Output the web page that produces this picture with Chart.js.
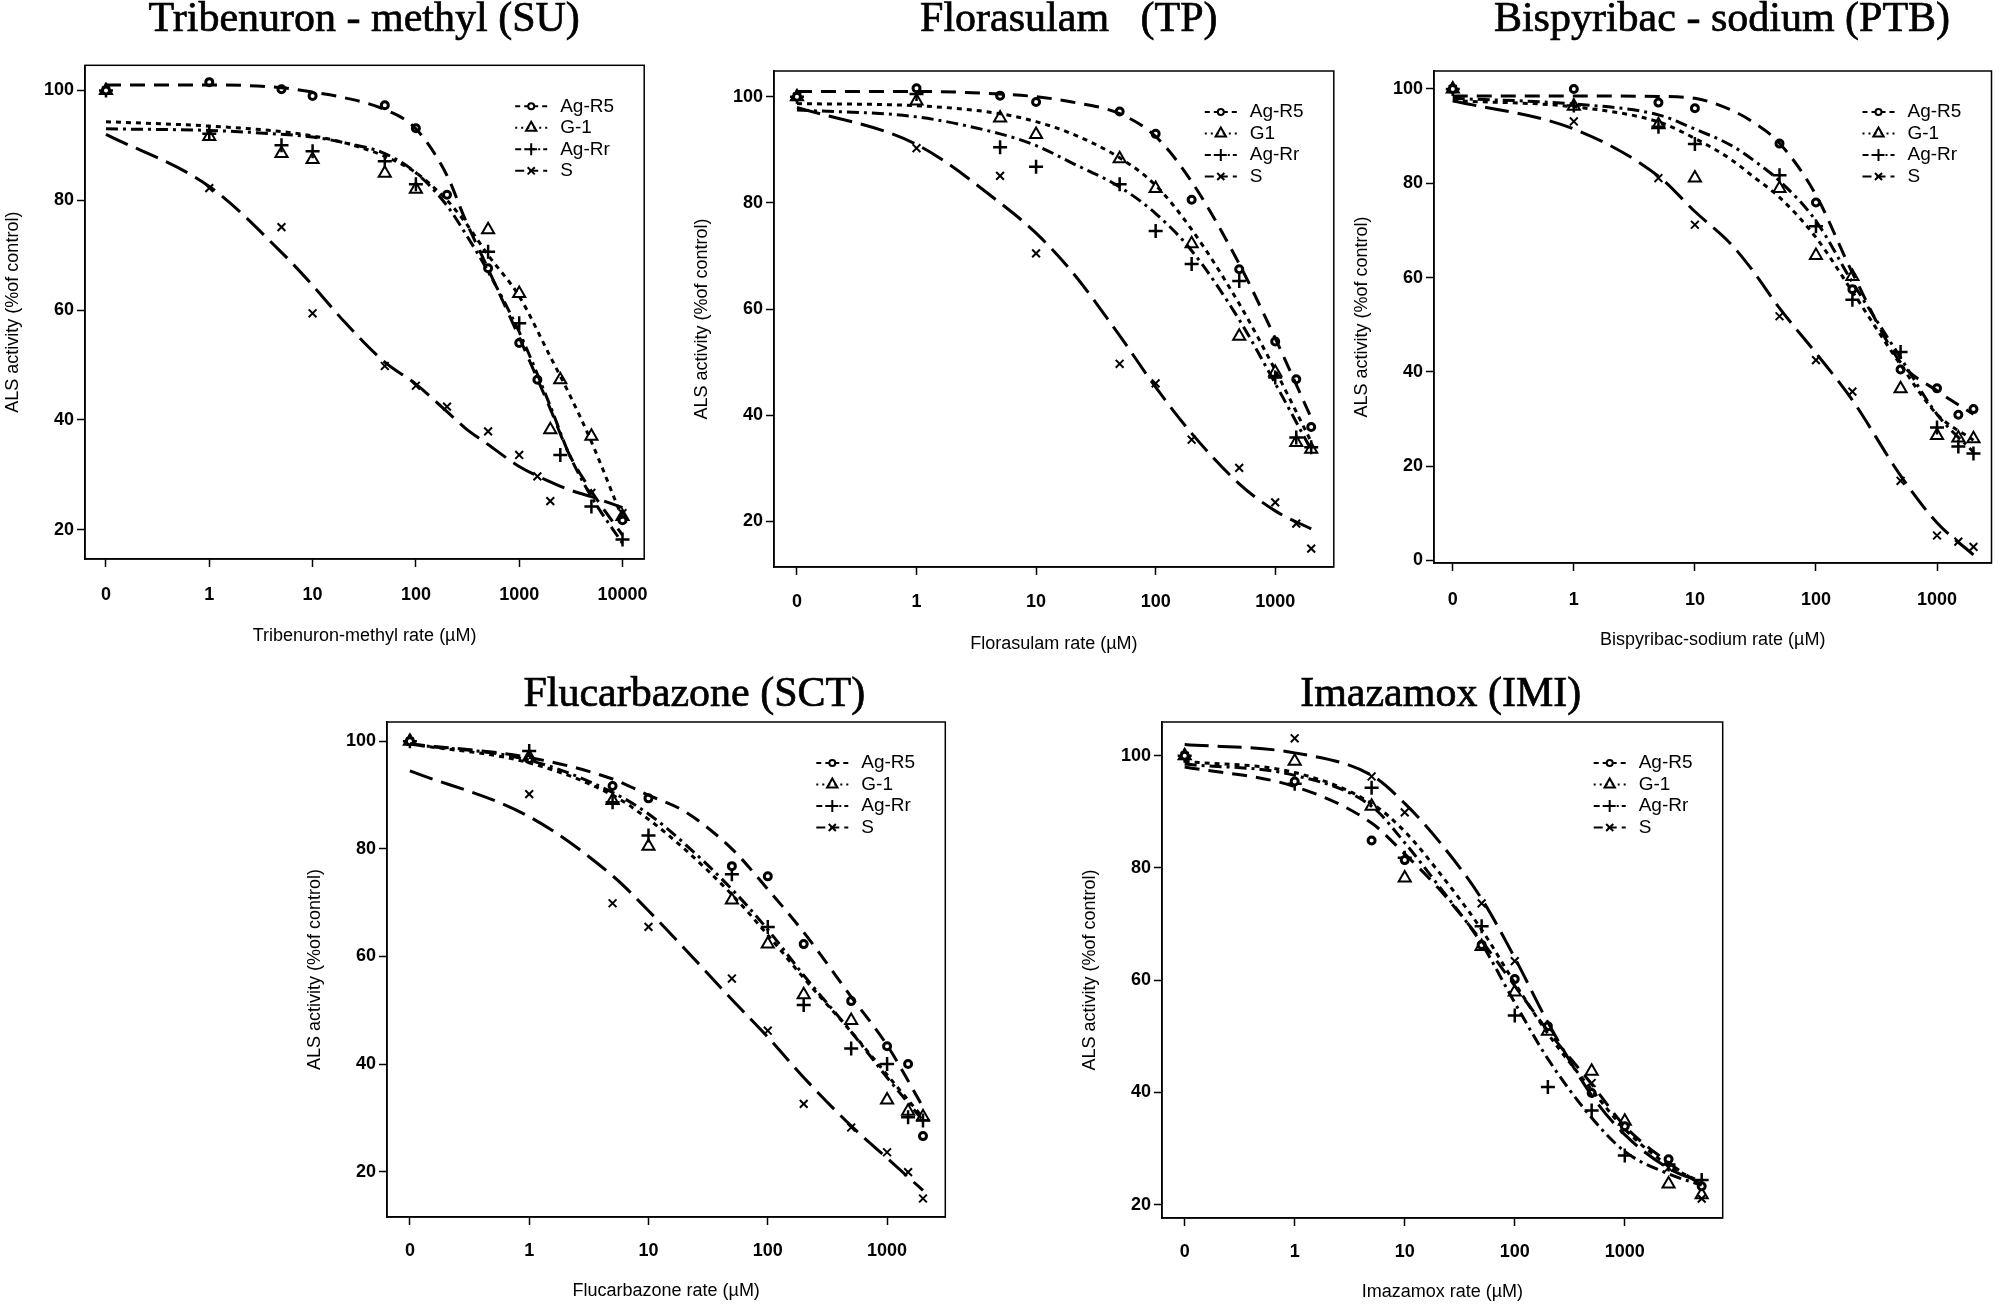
<!DOCTYPE html>
<html lang="en">
<head>
<meta charset="UTF-8">
<title>ALS activity dose-response curves</title>
<script src="https://cdn.jsdelivr.net/npm/chart.js"></script>
<style>
  html, body { margin: 0; padding: 0; background: #fff; }
  body { width: 2000px; height: 1307px; position: relative; overflow: hidden; }
  canvas { position: absolute; }
</style>
</head>
<body>
<script>
// untreated control (dose 0) sits one decade below 1 on the log axis
const ZERO_AT = 0.1;
const seriesLabels = ['Ag-R5', 'G-1', 'Ag-Rr', 'S'];
const xTickValues = [ZERO_AT, 1, 10, 100, 1000, 10000];
const xTickLabels = ['0', '1', '10', '100', '1000', '10000'];
const yTicksFrom20 = [20, 40, 60, 80, 100];
const yTicksFrom0 = [0, 20, 40, 60, 80, 100];

// Tribenuron-methyl (SU)
const triDoses = [0, 1, 5, 10, 50, 100, 200, 500, 1000, 1500, 2000, 2500, 5000, 10000];
const triAgR5 = [100, 101.5, 100.2, 99, 97.3, 93.1, 81, 67.6, 54, 47.3, null, null, null, 21.7];
const triG1 = [100, 91.6, 88.5, 87.4, 84.9, 82, null, 74.6, 63, null, 38.2, 47.3, 37, 22.4];
const triAgRr = [100, 92.1, 90, 88.9, 87.1, 82.9, null, 70.6, 57.6, null, null, 33.6, 24.2, 18.2];
const triS = [100, 82.2, 75.1, 59.4, 49.8, 46.2, 42.4, 37.9, 33.6, 29.7, 25.2, null, 26.7, 23];
const triCurveDoses = [0, 1, 5, 10, 20, 50, 100, 200, 300, 500, 1000, 2000, 3000, 5000, 10000];
const triCurveAgR5 = [101, 101, 100.5, 99.7, 98.7, 96.5, 93, 84.5, 76.5, 67.5, 55, 42, 34, 27, 19];
const triCurveG1 = [94.3, 93.5, 92.5, 91.7, 90.5, 88, 85, 80, 76, 70, 62.5, 51.5, 45, 36, 22];
const triCurveAgRr = [93, 92.7, 92, 91.5, 90.5, 88.5, 85, 79, 74, 67, 56, 42.5, 34, 26, 17.5];
const triCurveS = [92, 82.5, 70.5, 64.5, 58, 50.5, 46.5, 41.5, 38.5, 35.5, 31.5, 28.7, 27.3, 26, 24];

// Florasulam (TP)
const floDoses = [0, 1, 5, 10, 50, 100, 200, 500, 1000, 1500, 2000];
const floAgR5 = [100, 101.6, 100.2, 99, 97.2, 93, 80.6, 67.5, 53.9, 46.8, 37.8];
const floG1 = [100, 99.2, 96, 92.9, 88.3, 82.7, 72.3, 54.9, 48.1, 34.9, 33.6];
const floAgRr = [100, 100.5, 90.5, 86.8, 83.5, 74.7, 68.5, 65.3, 47.1, 35.8, 34];
const floS = [100, 90.3, 85.1, 70.5, 49.7, 46, 35.4, 30.1, 23.6, 19.6, 14.9];
const floCurveDoses = [0, 1, 5, 10, 20, 50, 100, 200, 500, 1000, 2000];
const floCurveAgR5 = [101, 101, 100.5, 100, 99, 96.8, 92.5, 84, 68.5, 54.5, 39.5];
const floCurveG1 = [98.7, 98.3, 96.8, 95.3, 93, 88.5, 83.3, 75, 61, 48.5, 35];
const floCurveAgRr = [97.5, 96.2, 93, 90.8, 87.5, 83, 78, 71, 58, 46, 33.5];
const floCurveS = [98, 91, 80, 74.3, 67, 55, 45.3, 36.6, 27.1, 22, 18.6];

// Bispyribac-sodium (PTB)
const bisDoses = [0, 1, 5, 10, 50, 100, 200, 500, 1000, 1500, 2000];
const bisAgR5 = [100, 100, 97.1, 95.9, 88.4, 75.9, 57.5, 40.5, 36.5, 30.9, 32.1];
const bisG1 = [100, 96.3, 92.4, 81.1, 78.9, 64.7, 60.2, 36.4, 26.5, 26, 25.8];
const bisAgRr = [100, 96.5, 92, 88.3, 81.7, 70.9, 55.3, 44.2, 28.2, 24.2, 22.7];
const bisS = [100, 93.1, 81.1, 71.2, 51.8, 42.5, 35.8, 16.9, 5.3, 4, 2.9];
const bisCurveDoses = [0, 1, 5, 10, 20, 30, 50, 100, 200, 500, 1000, 2000];
const bisCurveAgR5 = [98.5, 98.5, 98.4, 98, 95.5, 93, 88.5, 77.5, 61, 42, 36, 31];
const bisCurveG1 = [97.5, 96.2, 93, 89.5, 85, 81.5, 77, 68.5, 57, 41.5, 31, 25.5];
const bisCurveAgRr = [98, 96.8, 94.5, 91.5, 88, 85, 80.5, 72, 59, 43, 31, 23];
const bisCurveS = [97.5, 91.5, 81.5, 74, 67, 61.5, 53.5, 44, 34, 18, 8, 1.2];

// Flucarbazone (SCT)
const fluDoses = [0, 1, 5, 10, 50, 100, 200, 500, 1000, 1500, 2000];
const fluAgR5 = [100, 96.7, 91.7, 89.4, 76.8, 74.9, 62.3, 51.7, 43.3, 40, 26.6];
const fluG1 = [100, 97.1, 89, 80.5, 70.5, 62.3, 52.9, 48.1, 33.3, 31.2, 30.2];
const fluAgRr = [100, 98.2, 88.7, 82.5, 75.3, 65.5, 51, 42.9, 40, 30.1, 29.5];
const fluS = [100, 90.2, 69.9, 65.5, 55.9, 46.2, 32.6, 28.2, 23.6, 19.9, 15];
const fluCurveDoses = [0, 1, 5, 10, 20, 50, 100, 200, 500, 1000, 2000];
const fluCurveAgR5 = [99.5, 97, 93, 90, 87, 80, 72.5, 64.5, 52.5, 43.5, 32];
const fluCurveG1 = [99.5, 96, 90, 85.5, 80, 71.5, 64, 56, 46, 38, 30];
const fluCurveAgRr = [99.5, 96.5, 90.5, 86.5, 81, 72.5, 65, 56.5, 46, 37.5, 29.5];
const fluCurveS = [94.5, 86, 75, 68.5, 61.5, 52, 45, 37.5, 28.5, 22.5, 16.5];

// Imazamox (IMI)
const imaDoses = [0, 1, 5, 10, 50, 100, 200, 500, 1000, 2500, 5000];
const imaAgR5 = [100, 95.4, 84.9, 81.4, 66.3, 60.2, 51.8, 39.9, 34, 28.1, 23.3];
const imaG1 = [100, 99, 91, 78.2, 66, 57.9, 50.9, 43.8, 34.9, 23.7, 21.8];
const imaAgRr = [100, 95, 94.3, 81.8, 69.6, 53.7, 41, 36.8, 28.8, 27.2, 24.4];
const imaS = [100, 103.1, 96.3, 89.9, 73.7, 63.4, 51.6, 41.7, 33.4, 26.6, 21.1];
const imaCurveDoses = [0, 1, 5, 10, 20, 50, 100, 200, 500, 1000, 2500, 5000];
const imaCurveAgR5 = [98, 94.5, 88, 82.5, 76.5, 67, 59, 51, 41.5, 34, 27.5, 23.5];
const imaCurveG1 = [99, 97, 91.5, 86.5, 79.5, 69, 59.5, 50.5, 40.5, 33.5, 27, 24];
const imaCurveAgRr = [98.5, 96.5, 91, 84.5, 77, 66.5, 56, 46, 35.5, 29.5, 25.5, 23.5];
const imaCurveS = [102, 100.5, 96.5, 91.5, 85, 74.5, 64, 52.5, 39.5, 32.5, 26.5, 24];

// marker and line styles, in series order
const pointStyles = ['circle', 'triangle', 'cross', 'crossRot'];
const pointRadii = [3.5, 7, 7, 5.5];
const pointWidths = [3, 2, 2.5, 2];
const pointFills = ['#fff', 'rgba(0,0,0,0)', '#000', '#000'];
const curveDashes = [[15, 9], [5, 5], [12, 5, 3, 5], [24, 9]];
const legendDashes = [[5, 4], [2, 4], [6, 3, 2, 3], [9, 5]];
const legendRadii = [3, 6, 6, 5];

const SANS = '"Liberation Sans", Arial, sans-serif';
const SERIF = '"Liberation Serif", "Times New Roman", serif';
const Y_AXIS_W = 85;

const panels = [
  { title: 'Tribenuron - methyl (SU)', xTitle: 'Tribenuron-methyl rate (\u00b5M)',
    doses: triDoses, points: [triAgR5, triG1, triAgRr, triS],
    curveDoses: triCurveDoses, curves: [triCurveAgR5, triCurveG1, triCurveAgRr, triCurveS],
    labels: seriesLabels, nX: 6, yTicks: yTicksFrom20,
    box: [84.8, 65.3, 644, 559.3], xLog: [-1.203, 4.21], yRange: [14.65, 104.57],
    titleAt: [364, 20], top: 0, axisH: 100, labelCenter: 36, xTitlePad: 12 },
  { title: 'Florasulam   (TP)', xTitle: 'Florasulam rate (\u00b5M)',
    doses: floDoses, points: [floAgR5, floG1, floAgRr, floS],
    curveDoses: floCurveDoses, curves: [floCurveAgR5, floCurveG1, floCurveAgRr, floCurveS],
    labels: ['Ag-R5', 'G1', 'Ag-Rr', 'S'], nX: 5, yTicks: yTicksFrom20,
    box: [774.2, 71, 1334, 566.9], xLog: [-1.192, 3.49], yRange: [11.43, 104.84],
    titleAt: [1069, 20], top: 0, axisH: 100, labelCenter: 35, xTitlePad: 12 },
  { title: 'Bispyribac - sodium (PTB)', xTitle: 'Bispyribac-sodium rate (\u00b5M)',
    doses: bisDoses, points: [bisAgR5, bisG1, bisAgRr, bisS],
    curveDoses: bisCurveDoses, curves: [bisCurveAgR5, bisCurveG1, bisCurveAgRr, bisCurveS],
    labels: seriesLabels, nX: 5, yTicks: yTicksFrom0,
    box: [1434, 71, 1991.5, 563], xLog: [-1.155, 3.45], yRange: [-0.53, 103.8],
    titleAt: [1722, 20], top: 0, axisH: 100, labelCenter: 37, xTitlePad: 12 },
  { title: 'Flucarbazone (SCT)', xTitle: 'Flucarbazone rate (\u00b5M)',
    doses: fluDoses, points: [fluAgR5, fluG1, fluAgRr, fluS],
    curveDoses: fluCurveDoses, curves: [fluCurveAgR5, fluCurveG1, fluCurveAgRr, fluCurveS],
    labels: seriesLabels, nX: 5, yTicks: yTicksFrom20,
    box: [386.7, 722, 945, 1217], xLog: [-1.192, 3.488], yRange: [11.56, 103.6],
    titleAt: [694, 695], top: 650, axisH: 88, labelCenter: 34, xTitlePad: 3 },
  { title: 'Imazamox (IMI)', xTitle: 'Imazamox rate (\u00b5M)',
    doses: imaDoses, points: [imaAgR5, imaG1, imaAgRr, imaS],
    curveDoses: imaCurveDoses, curves: [imaCurveAgR5, imaCurveG1, imaCurveAgRr, imaCurveS],
    labels: seriesLabels, nX: 5, yTicks: yTicksFrom20,
    box: [1162.3, 722, 1723, 1217.7], xLog: [-1.206, 3.89], yRange: [17.65, 106.0],
    titleAt: [1441, 695], top: 650, axisH: 88, labelCenter: 34, xTitlePad: 3 }
];

function toXY(doses, values) {
  const out = [];
  doses.forEach((d, i) => {
    if (values[i] != null) out.push({ x: d === 0 ? ZERO_AT : d, y: values[i] });
  });
  return out;
}

// frame around the plot region
const panelBox = {
  id: 'panelBox',
  afterDraw(chart) {
    const { ctx, chartArea: a } = chart;
    ctx.save();
    ctx.strokeStyle = '#000';
    ctx.lineWidth = 1.5;
    ctx.strokeRect(a.left, a.top, a.right - a.left, a.bottom - a.top);
    ctx.restore();
  }
};

const panelTitle = {
  id: 'panelTitle',
  afterDraw(chart, args, opts) {
    const ctx = chart.ctx;
    ctx.save();
    ctx.fillStyle = '#000';
    ctx.strokeStyle = '#000';
    ctx.lineWidth = 0.7;
    ctx.font = '42px ' + SERIF;
    ctx.textAlign = 'center';
    ctx.textBaseline = 'middle';
    ctx.fillText(opts.text, opts.x, opts.y);
    ctx.strokeText(opts.text, opts.x, opts.y);
    ctx.restore();
  }
};

// legend with line sample and marker, drawn inside the plot
const insetLegend = {
  id: 'insetLegend',
  afterDatasetsDraw(chart, args, opts) {
    const { ctx, chartArea: a } = chart;
    ctx.save();
    opts.labels.forEach((label, i) => {
      const y = a.top + 41 + i * 21.5;
      const x0 = a.right - 129;
      ctx.strokeStyle = '#000';
      ctx.lineWidth = 2;
      ctx.setLineDash(legendDashes[i]);
      ctx.beginPath();
      ctx.moveTo(x0, y);
      ctx.lineTo(x0 + 32, y);
      ctx.stroke();
      ctx.setLineDash([]);
      ctx.fillStyle = pointFills[i];
      Chart.helpers.drawPoint(ctx, { pointStyle: pointStyles[i], radius: legendRadii[i], borderWidth: 2, rotation: 0 }, x0 + 16, y);
      ctx.fillStyle = '#000';
      ctx.font = '19px ' + SANS;
      ctx.textAlign = 'left';
      ctx.textBaseline = 'middle';
      ctx.fillText(label, a.right - 84, y);
    });
    ctx.restore();
  }
};

panels.forEach(p => {
  const [l, t, r, b] = p.box;
  const left = l - Y_AXIS_W;
  const width = Math.round(r - left + 16);
  const height = Math.round(b - p.top + p.axisH);
  const canvas = document.createElement('canvas');
  canvas.width = width;
  canvas.height = height;
  canvas.style.left = left + 'px';
  canvas.style.top = p.top + 'px';
  canvas.style.width = width + 'px';
  canvas.style.height = height + 'px';
  document.body.appendChild(canvas);

  const datasets = [];
  p.curves.forEach((c, i) => {
    datasets.push({
      label: p.labels[i] + ' fit',
      data: toXY(p.curveDoses, c),
      borderColor: '#000',
      borderWidth: 3,
      borderDash: curveDashes[i],
      pointRadius: 0,
      fill: false,
      cubicInterpolationMode: 'monotone'
    });
  });
  p.points.forEach((v, i) => {
    datasets.push({
      label: p.labels[i],
      data: toXY(p.doses, v),
      showLine: false,
      borderColor: '#000',
      pointStyle: pointStyles[i],
      pointRadius: pointRadii[i],
      pointBorderWidth: pointWidths[i],
      pointBorderColor: '#000',
      pointBackgroundColor: pointFills[i]
    });
  });

  const xTicks = xTickValues.slice(0, p.nX);
  // label line height sets how far below the axis the x tick labels sit
  const xLabelLine = ((p.labelCenter - 8 - 3) * 2) + 'px';
  new Chart(canvas, {
    type: 'line',
    data: { datasets },
    options: {
      responsive: false,
      animation: false,
      devicePixelRatio: 1,
      layout: { padding: { left: 0, top: t - p.top, right: width - (r - left), bottom: 0 } },
      scales: {
        x: {
          type: 'logarithmic',
          min: Math.pow(10, p.xLog[0]),
          max: Math.pow(10, p.xLog[1]),
          afterBuildTicks: s => { s.ticks = xTicks.map(v => ({ value: v })); },
          afterFit: s => { s.height = p.axisH; },
          ticks: {
            autoSkip: false, maxRotation: 0, color: '#000', padding: 3,
            font: { family: SANS, size: 18, weight: 'bold', lineHeight: xLabelLine },
            callback: (v, i) => xTickLabels[i]
          },
          grid: { drawOnChartArea: false, drawTicks: true, tickLength: 8, tickWidth: 1.5, tickColor: '#000' },
          border: { display: true, color: '#000', width: 1.5 },
          title: {
            display: true, text: p.xTitle, color: '#000',
            font: { family: SANS, size: 18 }, padding: { top: 0, bottom: p.xTitlePad }
          }
        },
        y: {
          type: 'linear',
          min: p.yRange[0],
          max: p.yRange[1],
          afterBuildTicks: s => { s.ticks = p.yTicks.map(v => ({ value: v })); },
          afterFit: s => { s.width = Y_AXIS_W; },
          ticks: {
            color: '#000', padding: 3,
            font: { family: SANS, size: 18, weight: 'bold' },
            callback: v => String(v)
          },
          grid: { drawOnChartArea: false, drawTicks: true, tickLength: 8, tickWidth: 1.5, tickColor: '#000' },
          border: { display: true, color: '#000', width: 1.5 },
          title: {
            display: true, text: 'ALS activity (%of control)', color: '#000',
            font: { family: SANS, size: 18 }, padding: { top: 2, bottom: 0 }
          }
        }
      },
      plugins: {
        legend: { display: false },
        tooltip: { enabled: false },
        panelTitle: { text: p.title, x: p.titleAt[0] - left, y: p.titleAt[1] - p.top },
        insetLegend: { labels: p.labels }
      }
    },
    plugins: [panelBox, panelTitle, insetLegend]
  });
});
</script>
</body>
</html>
